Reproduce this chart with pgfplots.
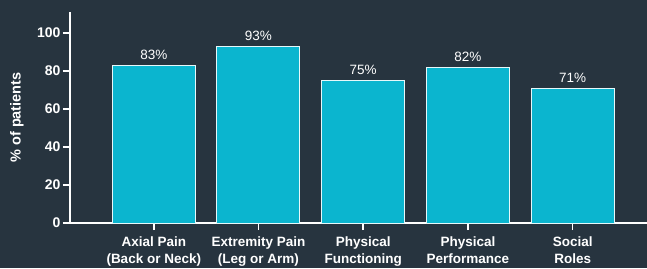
\documentclass[border=0pt]{standalone}
\usepackage{pgfplots}
\pgfplotsset{compat=1.18}
\usepackage{fontspec}
\setmainfont{Liberation Sans}
\definecolor{bg}{HTML}{27343F}
\definecolor{barc}{HTML}{0BB5CF}
\begin{document}
\begin{tikzpicture}[x=1pt,y=1pt]
\fill[bg] (0,0) rectangle (647,268);
\useasboundingbox (0,0) rectangle (647,268);
\begin{axis}[
  at={(70pt,45pt)}, anchor=south west,
  scale only axis, width=577pt, height=211pt,
  xmin=-0.8, xmax=4.71, ymin=0, ymax=111,
  axis x line=bottom, axis y line=left,
  axis line style={white, line width=1.6pt, -},
  ytick={0,20,40,60,80,100},
  xtick={0,1,2,3,4},
  xticklabels={{Axial Pain\\(Back or Neck)},{Extremity Pain\\(Leg or Arm)},{Physical\\Functioning},{Physical\\Performance},{Social\\Roles}},
  xticklabel style={align=center, font=\fontsize{13.5}{17}\selectfont\bfseries, text=white, inner sep=1pt, yshift=-6pt},
  yticklabel style={font=\fontsize{14}{14}\selectfont\bfseries, text=white, xshift=1pt},
  /pgf/number format/assume math mode=true,
  tick style={white, line width=1.6pt},
  major tick length=7pt,
  tick align=outside,
  ylabel={\bfseries \% of patients},
  ylabel style={font=\fontsize{14.5}{15}\selectfont, text=white, at={(axis description cs:-0.0919,0.5)}, anchor=center, rotate=0},
  ybar, bar width=83pt,
  nodes near coords={\pgfmathprintnumber{\pgfplotspointmeta}\%},
  nodes near coords style={font=\fontsize{13.5}{14}\selectfont, text=white, /pgf/number format/assume math mode=true, yshift=2pt},
  clip=false,
]
\addplot[fill=barc, draw=white!90!barc, line width=1pt] coordinates {(0,83) (1,93) (2,75) (3,82) (4,71)};
\end{axis}
\end{tikzpicture}
\end{document}
